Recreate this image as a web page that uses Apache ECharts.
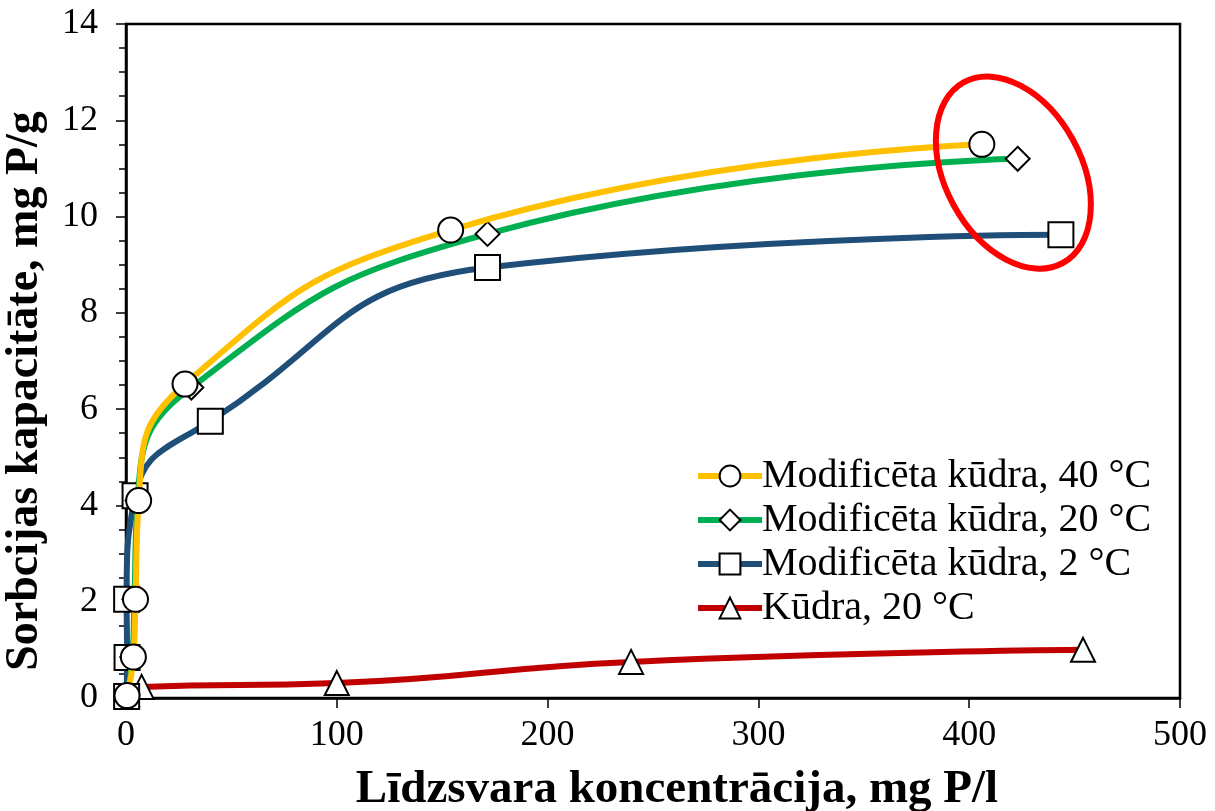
<!DOCTYPE html>
<html>
<head>
<meta charset="utf-8">
<script src="https://cdn.jsdelivr.net/npm/echarts@6/dist/echarts.min.js"></script>
<style>
  html, body { margin: 0; padding: 0; background: #fff; }
  #chart { width: 1215px; height: 811px; }
</style>
</head>
<body>
<div id="chart"></div>
<script>
// Sorption isotherms: equilibrium concentration (mg P/l) vs sorption capacity (mg P/g)
const seriesNames = [
  'Modificēta kūdra, 40 °C',
  'Modificēta kūdra, 20 °C',
  'Modificēta kūdra, 2 °C',
  'Kūdra, 20 °C'
];
const mod40 = [[0.5, 0.05], [3.5, 0.85], [4.5, 2.05], [6, 4.1], [28, 6.52], [154, 9.72], [406, 11.5]];
const mod20 = [[0.5, 0.04], [3, 0.85], [4, 2.05], [5.5, 4.1], [31, 6.45], [171.5, 9.64], [423, 11.2]];
const mod2  = [[0.3, 0.03], [0.5, 0.84], [0.3, 2.05], [4.3, 4.2], [40, 5.75], [171.5, 8.94], [443.5, 9.62]];
const peat20 = [[0.5, 0.08], [7.4, 0.23], [100, 0.31], [239.6, 0.75], [454, 1.0]];

const xTicks = { min: 0, max: 500, interval: 100 };
const yTicks = { min: 0, max: 14, interval: 2 };

const lineColors = ['#FFC000', '#00B050', '#1F4E79', '#C00000'];
const symbols = ['circle', 'diamond', 'rect', 'triangle'];
const symbolSizes = [25, 24, 25, 24];
const dataSets = [mod40, mod20, mod2, peat20];

const serif = '"Liberation Serif", "Times New Roman", serif';

const chart = echarts.init(document.getElementById('chart'), null, { renderer: 'canvas' });

const series = dataSets.map((d, i) => ({
  name: seriesNames[i],
  type: 'line',
  data: d,
  smooth: 0.5,
  symbol: symbols[i],
  symbolSize: symbolSizes[i],
  showAllSymbol: true,
  lineStyle: { color: lineColors[i], width: 6 },
  itemStyle: { color: '#ffffff', borderColor: '#000000', borderWidth: 2 },
  z: 10 - i
}));

chart.setOption({
  animation: false,
  backgroundColor: '#ffffff',
  grid: {
    left: 126, right: 35, top: 24, bottom: 113,
    containLabel: false,
    outerBoundsMode: 'none',
    show: true, borderColor: '#000', borderWidth: 2.5
  },
  legend: {
    data: seriesNames,
    orient: 'vertical',
    left: 690, top: 451,
    itemWidth: 64, itemHeight: 26, itemGap: 4,
    textStyle: { fontFamily: serif, fontSize: 40, color: '#000', padding: [0, 0, 0, -5] },
    lineStyle: { width: 6 }
  },
  xAxis: {
    type: 'value',
    min: xTicks.min, max: xTicks.max, interval: xTicks.interval,
    splitLine: { show: false },
    axisLine: { show: true, onZero: false, lineStyle: { color: '#000', width: 2.5 } },
    axisTick: { show: true, inside: false, length: 10, lineStyle: { color: '#000', width: 1.5 } },
    axisLabel: { color: '#000', fontFamily: serif, fontSize: 36, margin: 20 },
    name: 'Līdzsvara koncentrācija, mg P/l',
    nameLocation: 'middle',
    nameGap: 68,
    nameTextStyle: { fontFamily: serif, fontSize: 47, fontWeight: 'bold', color: '#000', padding: [0, 0, 0, 48] }
  },
  yAxis: {
    type: 'value',
    min: yTicks.min, max: yTicks.max, interval: yTicks.interval,
    splitLine: { show: false },
    axisLine: { show: true, onZero: false, lineStyle: { color: '#000', width: 2.5 } },
    axisTick: { show: true, inside: false, length: 10, lineStyle: { color: '#000', width: 1.5 } },
    minorTick: { show: true, splitNumber: 4, length: 7, lineStyle: { color: '#000', width: 1.5 } },
    axisLabel: { color: '#000', fontFamily: serif, fontSize: 36, margin: 28 },
    name: 'Sorbcijas kapacitāte, mg P/g',
    nameLocation: 'middle',
    nameGap: 78,
    nameRotate: 90,
    nameTextStyle: { fontFamily: serif, fontSize: 46, fontWeight: 'bold', color: '#000', padding: [0, 60, 0, 0] }
  },
  series: series
});

// Red ellipse highlighting the highest-concentration points
const c1 = chart.convertToPixel({ gridIndex: 0 }, [406, 11.5]);
const c2 = chart.convertToPixel({ gridIndex: 0 }, [443.5, 9.62]);
chart.setOption({
  graphic: [{
    type: 'ellipse',
    x: (c1[0] + c2[0]) / 2 - 8,
    y: (c1[1] + c2[1]) / 2 - 17,
    rotation: 0.5,
    shape: { cx: 0, cy: 0, rx: 68, ry: 103 },
    style: { fill: 'none', stroke: '#FF0000', lineWidth: 6 },
    z: 100
  }]
});
</script>
</body>
</html>
